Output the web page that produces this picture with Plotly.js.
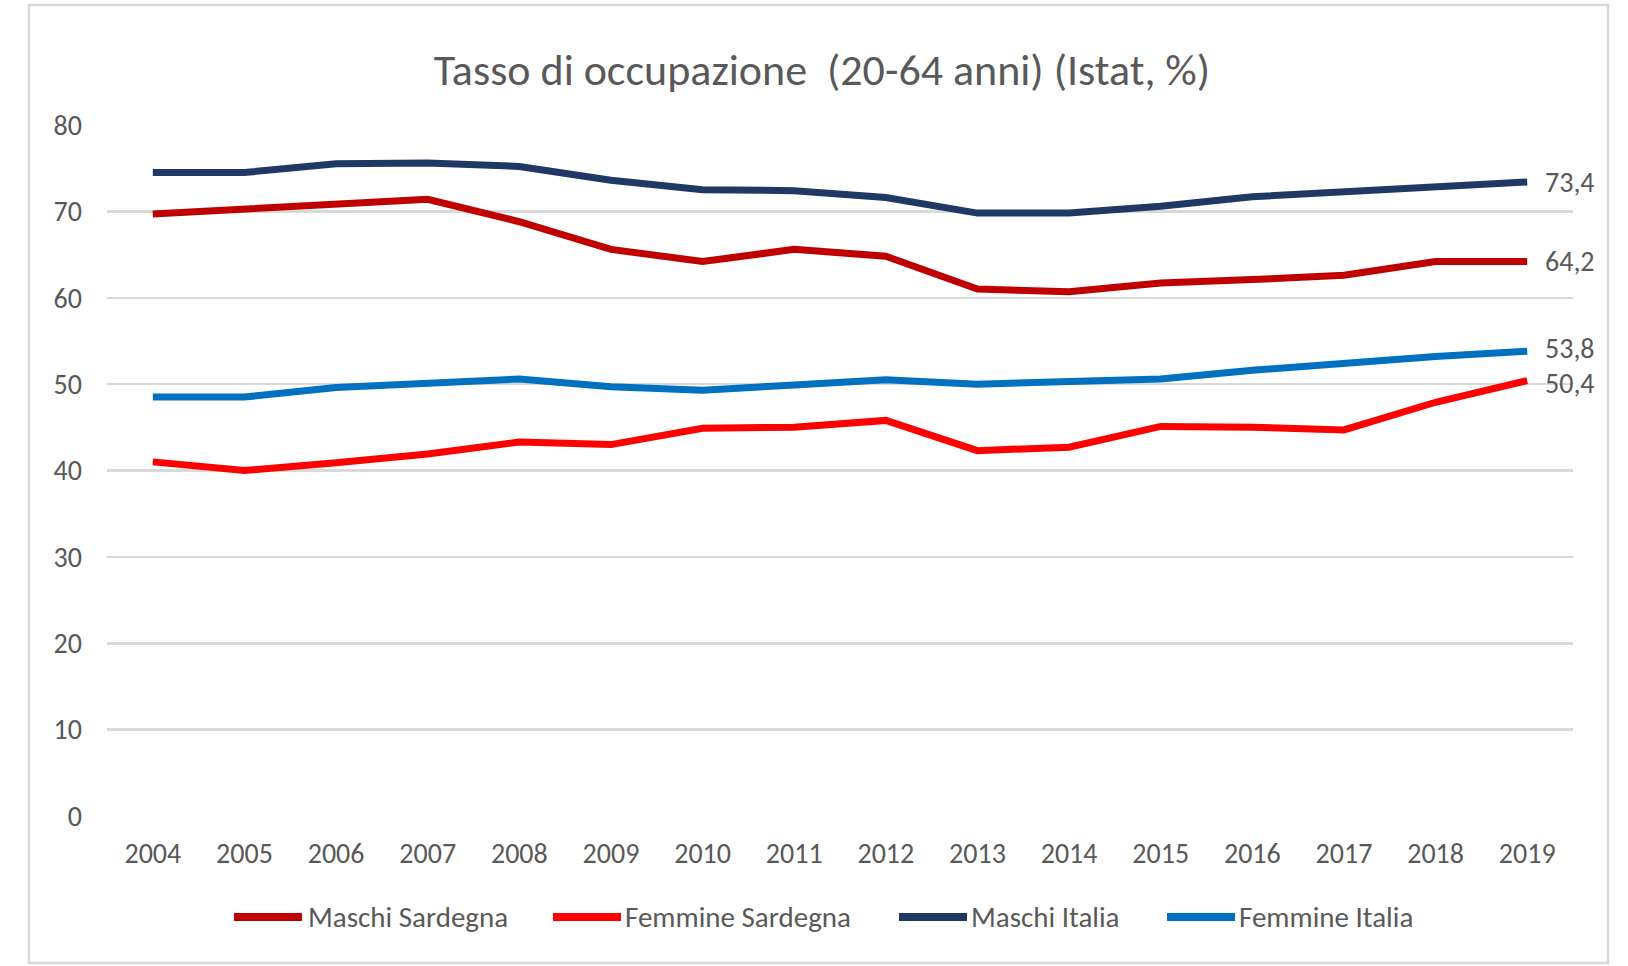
<!DOCTYPE html>
<html><head><meta charset="utf-8">
<script src="https://cdn.plot.ly/plotly-3.0.1.min.js"></script>
<style>html,body{margin:0;padding:0;background:#fff}#chart{width:1628px;height:966px}</style>
</head><body><div id="chart"></div>
<script>
const years = ['2004','2005','2006','2007','2008','2009','2010','2011','2012','2013','2014','2015','2016','2017','2018','2019'];
const maschiSardegna  = [69.7, 70.3, 70.9, 71.4, 68.8, 65.6, 64.2, 65.6, 64.8, 61.0, 60.7, 61.7, 62.1, 62.6, 64.2, 64.2];
const femmineSardegna = [41.0, 40.0, 40.9, 41.9, 43.3, 43.0, 44.9, 45.0, 45.8, 42.3, 42.7, 45.1, 45.0, 44.7, 47.9, 50.4];
const maschiItalia    = [74.5, 74.5, 75.5, 75.6, 75.2, 73.6, 72.5, 72.4, 71.6, 69.8, 69.8, 70.6, 71.7, 72.3, 73.0, 73.4];
const femmineItalia   = [48.5, 48.5, 49.6, 50.0, 50.6, 49.7, 49.3, 49.9, 50.5, 50.0, 50.3, 50.6, 51.6, 52.5, 53.2, 53.8];
const seriesNames = ['Maschi Sardegna', 'Femmine Sardegna', 'Maschi Italia', 'Femmine Italia'];
const yTicks = [0, 10, 20, 30, 40, 50, 60, 70, 80];
const titleText = 'Tasso di occupazione  (20-64 anni) (Istat, %)';

const seriesValues = [maschiSardegna, femmineSardegna, maschiItalia, femmineItalia];
const colors = ['#C00000', '#FF0000', '#203864', '#0070C0'];
const labelYShift = [0, -3, 0, 3];
const FONT = 'Carlito, Calibri, Lato, sans-serif';
const TXT = '#595959';

const W = 1628, H = 966, M = {l: 107, r: 55, t: 125, b: 150};
const PW = W - M.l - M.r, PH = H - M.t - M.b;
const px2x = p => (p - M.l) / PW;
const py2y = p => (H - M.b - p) / PH;

const traces = seriesValues.map((vals, i) => ({
  type: 'scatter', mode: 'lines', x: years, y: vals, name: seriesNames[i],
  line: {color: colors[i], width: 7}, showlegend: false, hoverinfo: 'x+y'
}));

const fmt = v => v.toFixed(1).replace('.', ',');
const lastIdx = years.length - 1;
const endLabels = seriesValues.map((vals, i) => ({
  x: lastIdx, y: vals[lastIdx], xref: 'x', yref: 'y',
  text: fmt(vals[lastIdx]), showarrow: false, xanchor: 'left', yanchor: 'middle',
  xshift: 17, yshift: labelYShift[i], borderpad: 0,
  font: {family: FONT, size: 28, color: TXT}
}));

// legend (custom, below plot)
const legLineX = [234, 553, 899, 1167];
const legTextX = [307, 624, 970, 1238];
const legY = 917;
const legendShapes = seriesNames.map((n, i) => ({
  type: 'line', xref: 'paper', yref: 'paper',
  x0: px2x(legLineX[i]), x1: px2x(legLineX[i] + 68), y0: py2y(legY), y1: py2y(legY),
  line: {color: colors[i], width: 8}
}));
const legendTexts = seriesNames.map((n, i) => ({
  xref: 'paper', yref: 'paper', x: px2x(legTextX[i]), y: py2y(legY),
  xanchor: 'left', yanchor: 'middle', showarrow: false, text: n,
  font: {family: FONT, size: 29, color: TXT}, borderpad: 0
}));

const frame = {
  type: 'rect', xref: 'paper', yref: 'paper', layer: 'below',
  x0: px2x(29), x1: px2x(1608), y0: py2y(963), y1: py2y(5),
  line: {color: '#D9D9D9', width: 2.5}, fillcolor: 'rgba(0,0,0,0)'
};

const layout = {
  width: W, height: H, margin: M,
  paper_bgcolor: '#fff', plot_bgcolor: '#fff',
  font: {family: FONT, size: 28, color: TXT},
  title: {text: titleText, font: {family: FONT, size: 44, color: TXT},
          x: 822 / W, xanchor: 'center', xref: 'container',
          y: 1 - 70 / H, yanchor: 'middle', yref: 'container'},
  showlegend: false,
  xaxis: {type: 'category', range: [-0.5, years.length - 0.5], showgrid: false, zeroline: false,
          showline: false, ticks: '', ticklabelstandoff: 18, tickfont: {family: FONT, size: 28, color: TXT}},
  yaxis: {range: [0, 80], tickvals: yTicks, showgrid: true, gridcolor: '#D9D9D9', gridwidth: 2.5,
          zeroline: false, showline: false, ticks: '', ticklabelstandoff: 24,
          tickfont: {family: FONT, size: 28, color: TXT}},
  shapes: [frame].concat(legendShapes),
  annotations: endLabels.concat(legendTexts)
};

Plotly.newPlot('chart', traces, layout, {displayModeBar: false, staticPlot: true});
</script></body></html>
